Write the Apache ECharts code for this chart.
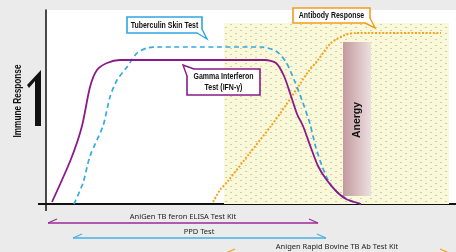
<!DOCTYPE html>
<html>
<head>
<meta charset="UTF-8">
<title>Immune Response</title>
<script src="https://cdn.jsdelivr.net/npm/echarts@6/dist/echarts.min.js"></script>
<style>
  html, body { margin: 0; padding: 0; background: #ebebeb; }
  #main { width: 456px; height: 252px; }
</style>
</head>
<body>
<div id="main"></div>
<script>
// x = time (px from axis), y = response level
var gammaIfn = [[6,2],[25,45],[36,78],[44,117],[51,134],[61,141],[74,144],[219,144],[230,141],[238,128],[245,108],[251,90],[257,78],[265,56],[272,38],[280,25],[290,13],[300,5],[315,0]];
var tuberculin = [[28,0],[37,21],[44,48],[57,78],[64,107],[71,124],[81,137],[91,151],[101,156],[114,157],[215,157],[230,153],[240,142],[249,122],[257,101],[264,80],[270,56],[276,38],[283,22],[292,11],[305,3],[315,0]];
var antibody = [[167,2],[174,14],[182,23],[203,50],[225,78],[240,99],[252,117],[262,132],[272,144],[285,161],[299,169],[310,171],[395,171]];
var hatchZone = [[178,0],[403,181]];
var anergyZone = [[297,8],[325,162]];

var tile = document.createElement('canvas');
tile.width = 10; tile.height = 6;
var tc = tile.getContext('2d');
tc.fillStyle = '#f9f9da';
tc.fillRect(0, 0, 10, 6);
tc.fillStyle = '#cfcdb0';
tc.fillRect(0, 0, 2, 1);
tc.fillRect(5, 3, 2, 1);

var chart = echarts.init(document.getElementById('main'));
var boldFont = 'bold 8.5px "Liberation Sans", Arial, sans-serif';

function callout(x, y, w, h, color, text, tail) {
  return {
    type: 'group',
    children: [
      { type: 'rect', shape: { x: x, y: y, width: w, height: h },
        style: { fill: '#fff', stroke: color, lineWidth: 1.6 }, z: 20 },
      { type: 'polyline', shape: { points: tail },
        style: { fill: '#fff', stroke: color, lineWidth: 1.4 }, z: 21 },
      { type: 'text', x: x + w / 2, y: y + h / 2 + 0.5, scaleX: 0.82, z: 22,
        style: { text: text, align: 'center', verticalAlign: 'middle',
          font: boldFont, fill: '#111', lineHeight: 11 } }
    ]
  };
}

function rangeLine(x1, x2, y, color) {
  return [
    { type: 'line', shape: { x1: x1, y1: y, x2: x2, y2: y }, style: { stroke: color, lineWidth: 1.3 } },
    { type: 'line', shape: { x1: x1, y1: y, x2: x1 + 9, y2: y - 4 }, style: { stroke: color, lineWidth: 1.3 } },
    { type: 'line', shape: { x1: x2, y1: y, x2: x2 - 9, y2: y - 4 }, style: { stroke: color, lineWidth: 1.3 } }
  ];
}

var graphics = [
  // axis overhangs
  { type: 'line', shape: { x1: 38, y1: 204, x2: 46, y2: 204 }, style: { stroke: '#111', lineWidth: 2 } },
  { type: 'line', shape: { x1: 46, y1: 204, x2: 46, y2: 211 }, style: { stroke: '#111', lineWidth: 1.5 } },
  // big arrow
  { type: 'polygon', shape: { points: [[35,126],[41,126],[41,70],[27,85],[29,88],[35,81]] },
    style: { fill: '#111' } },
  // y axis title, condensed
  { type: 'text', x: 18, y: 101, rotation: Math.PI / 2, scaleX: 0.82,
    style: { text: 'Immune Response', align: 'center', verticalAlign: 'middle',
      font: 'bold 10px "Liberation Sans", Arial, sans-serif', fill: '#111' } },
  // anergy text
  { type: 'text', x: 357, y: 120, rotation: Math.PI / 2, z: 15,
    style: { text: 'Anergy', align: 'center', verticalAlign: 'middle',
      font: 'bold 10.5px "Liberation Sans", Arial, sans-serif', fill: '#111' } },
  callout(127, 17, 75, 16, '#2ea7e0', 'Tuberculin Skin Test', [[197,33],[207,39],[202,29]]),
  callout(187, 69, 73, 26, '#8b1a89', 'Gamma Interferon\nTest (IFN-γ)', [[187,76],[183,65],[194,69]]),
  callout(293, 8, 77, 15, '#f39c1a', 'Antibody Response', [[365,23],[375,28],[370,18]]),
  // kit ranges
  { type: 'text', x: 183, y: 217, style: { text: 'AniGen TB feron ELISA Test Kit', align: 'center', verticalAlign: 'middle', font: '7.5px "Noto Sans", sans-serif', fill: '#222' } },
  { type: 'text', x: 199, y: 232, style: { text: 'PPD Test', align: 'center', verticalAlign: 'middle', font: '7.5px "Noto Sans", sans-serif', fill: '#222' } },
  { type: 'text', x: 337, y: 247, style: { text: 'Anigen Rapid Bovine TB Ab Test Kit', align: 'center', verticalAlign: 'middle', font: '7.5px "Noto Sans", sans-serif', fill: '#222' } }
].concat(rangeLine(48, 318, 223, '#9b2a96'))
 .concat(rangeLine(73, 326, 238, '#45b0e5'))
 .concat(rangeLine(226, 449, 253, '#f5a21c'));

chart.setOption({
  backgroundColor: '#ebebeb',
  animation: false,
  grid: { left: 46, right: 0, top: 10, bottom: 48, show: true, backgroundColor: '#fff', borderWidth: 0 },
  xAxis: {
    type: 'value', min: 0, max: 410,
    axisLine: { show: true, lineStyle: { color: '#111', width: 2 } },
    axisTick: { show: false }, axisLabel: { show: false }, splitLine: { show: false }
  },
  yAxis: {
    type: 'value', min: 0, max: 194,
    axisLine: { show: true, lineStyle: { color: '#111', width: 1.5 } },
    axisTick: { show: false }, axisLabel: { show: false }, splitLine: { show: false }
  },
  series: [
    {
      type: 'line', data: [], z: 1, silent: true,
      markArea: {
        silent: true,
        itemStyle: { color: { image: tile, repeat: 'repeat' } },
        data: [[{ coord: hatchZone[0] }, { coord: hatchZone[1] }]]
      }
    },
    {
      type: 'line', data: [], z: 2, silent: true,
      markArea: {
        silent: true,
        itemStyle: { color: new echarts.graphic.LinearGradient(0, 0, 1, 0, [
          { offset: 0, color: '#c29a9d' }, { offset: 1, color: '#eddfe0' }]) },
        data: [[{ coord: anergyZone[0] }, { coord: anergyZone[1] }]]
      }
    },
    {
      name: 'Antibody Response', type: 'line', data: antibody, smooth: 0.25, symbol: 'none', z: 5,
      lineStyle: { color: '#f5a21c', width: 2, type: [2, 1.6] }
    },
    {
      name: 'Tuberculin Skin Test', type: 'line', data: tuberculin, smooth: 0.25, symbol: 'none', z: 6,
      lineStyle: { color: '#35a9e1', width: 1.7, type: [5, 3.5] }
    },
    {
      name: 'Gamma Interferon Test', type: 'line', data: gammaIfn, smooth: 0.25, symbol: 'none', z: 7,
      lineStyle: { color: '#8b1a89', width: 1.8 }
    }
  ],
  graphic: graphics
});
</script>
</body>
</html>
